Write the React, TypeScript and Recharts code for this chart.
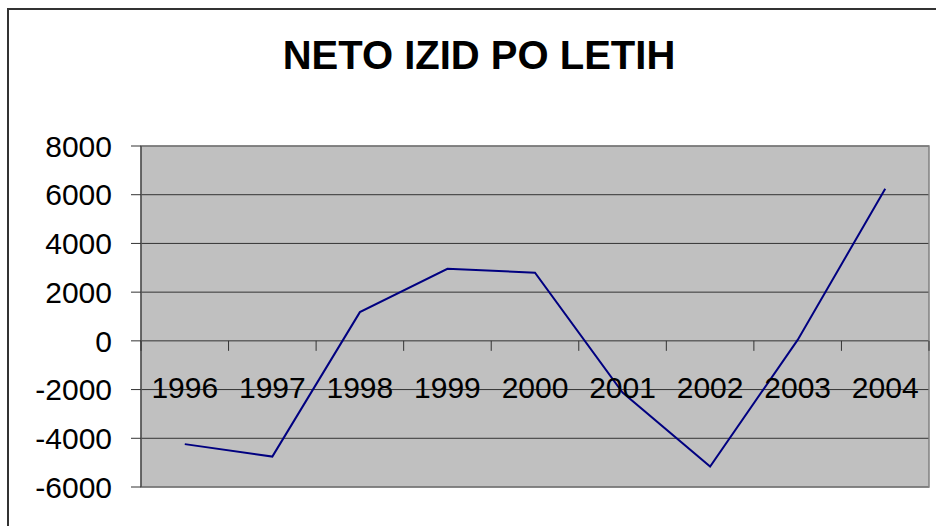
import React from "react";
import {
  LineChart,
  Line,
  XAxis,
  YAxis,
  CartesianGrid,
  ReferenceDot,
  ReferenceArea,
} from "recharts";

const TITLE = "NETO IZID PO LETIH";
const YEARS = ["1996", "1997", "1998", "1999", "2000", "2001", "2002", "2003", "2004"];
const NET_RESULT = [-4240, -4750, 1180, 2960, 2800, -2120, -5160, 40, 6240];
const Y_TICKS = [-6000, -4000, -2000, 0, 2000, 4000, 6000, 8000];

const data = YEARS.map((year, i) => ({ year, idx: i + 0.5, value: NET_RESULT[i] }));
const BOUNDARIES = [...YEARS.map((_, i) => i), YEARS.length];

const FONT = "'Liberation Sans', Arial, sans-serif";

const BoundaryTick = (props: any) => {
  const { cx, cy } = props;
  return <line x1={cx} y1={cy} x2={cx} y2={cy + 10} stroke="#333" strokeWidth={1} />;
};

const makeYearLabel = (label: string) => (props: any) => {
  const { cx, cy } = props;
  return (
    <text
      x={cx}
      y={cy + 57}
      textAnchor="middle"
      fontFamily={FONT}
      fontSize={30}
      fill="#000"
    >
      {label}
    </text>
  );
};

export default function App() {
  return (
    <div style={{ position: "absolute", left: 0, top: 0, width: 936, height: 526, background: "#fff", overflow: "hidden" }}>
      <div style={{ position: "absolute", left: 7, top: 8, width: 2, height: 530, background: "#333" }} />
      <div style={{ position: "absolute", left: 7, top: 8, width: 940, height: 2, background: "#333" }} />
      <div
        style={{
          position: "absolute",
          left: 229,
          top: 35,
          width: 500,
          textAlign: "center",
          fontFamily: FONT,
          fontWeight: "bold",
          fontSize: 40,
          lineHeight: "40px",
          color: "#000",
        }}
      >
        {TITLE}
      </div>
      <div style={{ position: "absolute", left: 0, top: 0 }}>
        <LineChart
          width={936}
          height={526}
          data={data}
          margin={{ top: 146, right: 7, bottom: 39, left: 0 }}
        >
          <CartesianGrid vertical={false} stroke="#333" fill="#C0C0C0" fillOpacity={1} />
          <XAxis type="number" dataKey="idx" domain={[0, YEARS.length]} allowDataOverflow hide />
          <XAxis xAxisId="cat" dataKey="year" type="category" scale="band" hide />
          <YAxis
            type="number"
            domain={[-6000, 8000]}
            ticks={Y_TICKS}
            interval={0}
            width={141}
            tickSize={10}
            tickMargin={19}
            axisLine={{ stroke: "#333" }}
            tickLine={{ stroke: "#333" }}
            tick={{ fontFamily: FONT, fontSize: 30, fill: "#000" }}
          />
          <ReferenceArea
            x1={0}
            x2={YEARS.length}
            y1={-6000}
            y2={8000}
            stroke="#808080"
            strokeWidth={1.5}
            fill="none"
            fillOpacity={0}
            ifOverflow="visible"
          />
          {BOUNDARIES.map((b) => (
            <ReferenceDot key={"b" + b} x={b} y={0} r={0} ifOverflow="visible" shape={BoundaryTick} />
          ))}
          {YEARS.map((y) => (
            <ReferenceDot key={"l" + y} xAxisId="cat" x={y} y={0} r={0} shape={makeYearLabel(y)} />
          ))}
          <Line
            xAxisId="cat"
            type="linear"
            dataKey="value"
            stroke="#000080"
            strokeWidth={2}
            dot={false}
            activeDot={false}
            isAnimationActive={false}
          />
        </LineChart>
      </div>
    </div>
  );
}
